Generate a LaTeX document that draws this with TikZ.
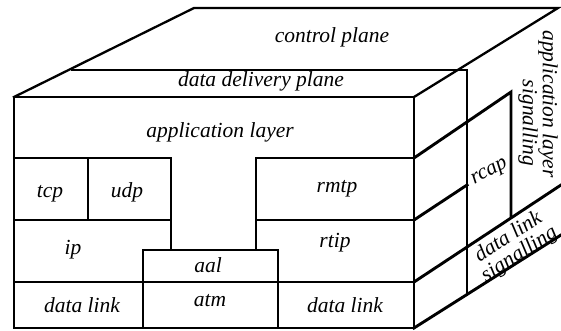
\documentclass[tikz,border=0pt]{standalone}
\usepackage{fontspec}
\setmainfont{Liberation Serif}
\newfontfamily\labelfont{Liberation Serif}
\begin{document}
\begin{tikzpicture}[x=1pt,y=-1pt,
  edge/.style={line width=2.9pt,line cap=rect},
  thinedge/.style={line width=2.3pt,line cap=rect},
  lbl/.style={font=\labelfont\fontsize{21.5}{20}\selectfont\itshape,inner sep=0pt,anchor=base},
  rlbl/.style={font=\labelfont\fontsize{21.5}{20}\selectfont\itshape,inner sep=0pt,align=center}]
\useasboundingbox (0,0) rectangle (561,331);

% corners of the block
\coordinate (fTL) at (14,97);
\coordinate (fTR) at (414,97);
\coordinate (fBR) at (414,328);
\coordinate (fBL) at (14,328);
\coordinate (bTL) at (194,8);
\coordinate (bTR) at (558,8);

% top face
\draw[thinedge] (fTL) -- (bTL) -- (bTR) -- (fTR);
\draw[edge] (72,70) -- (467,70) -- (467,295);

% front face
\draw[edge] (fTL) -- (fTR) -- (fBR) -- (fBL) -- cycle;
\draw[edge] (14,158) -- (171,158) -- (171,250);
\draw[edge] (414,158) -- (256,158) -- (256,250);
\draw[edge] (88,158) -- (88,220);
\draw[edge] (14,220) -- (171,220);
\draw[edge] (256,220) -- (414,220);
\draw[edge] (14,282) -- (414,282);
\draw[edge] (143,328) -- (143,250) -- (278,250) -- (278,328);

% right face
\draw[edge] (414,158) -- (511,92) -- (511,217);
\draw[edge] (414,220) -- (467,185);
\draw[edge] (414,282) -- (561,185);
\draw[edge] (414,328) -- (561,235);

% labels on the front and top
\node[lbl] (cp)  at (332,43)  {control plane};
\node[lbl] (ddp) at (261,87)  {data delivery plane};
\node[lbl] (app) at (220,138) {application layer};
\node[lbl] (tcp) at (50,197)  {tcp};
\node[lbl] (udp) at (127,197) {udp};
\node[lbl] (ip)  at (73,254)  {ip};
\node[lbl] (aal) at (208,272) {aal};
\node[lbl] (atm) at (210,306) {atm};
\node[lbl] (dll) at (82,312)  {data link};
\node[lbl] (dlr) at (345,312) {data link};
\node[lbl] (rmtp) at (337,192) {rmtp};
\node[lbl] (rtip) at (335,247) {rtip};

% labels on the side
\node[rlbl,rotate=28] (rcap) at (490,173) {rcap};
\node[rlbl,rotate=-90] (als) at (548,104) {application layer};
\node[rlbl,rotate=-90] (sig) at (528,123) {signalling};
\node[rlbl,rotate=33] (dls) at (514,246) {data link\\signalling};
\end{tikzpicture}
\end{document}
